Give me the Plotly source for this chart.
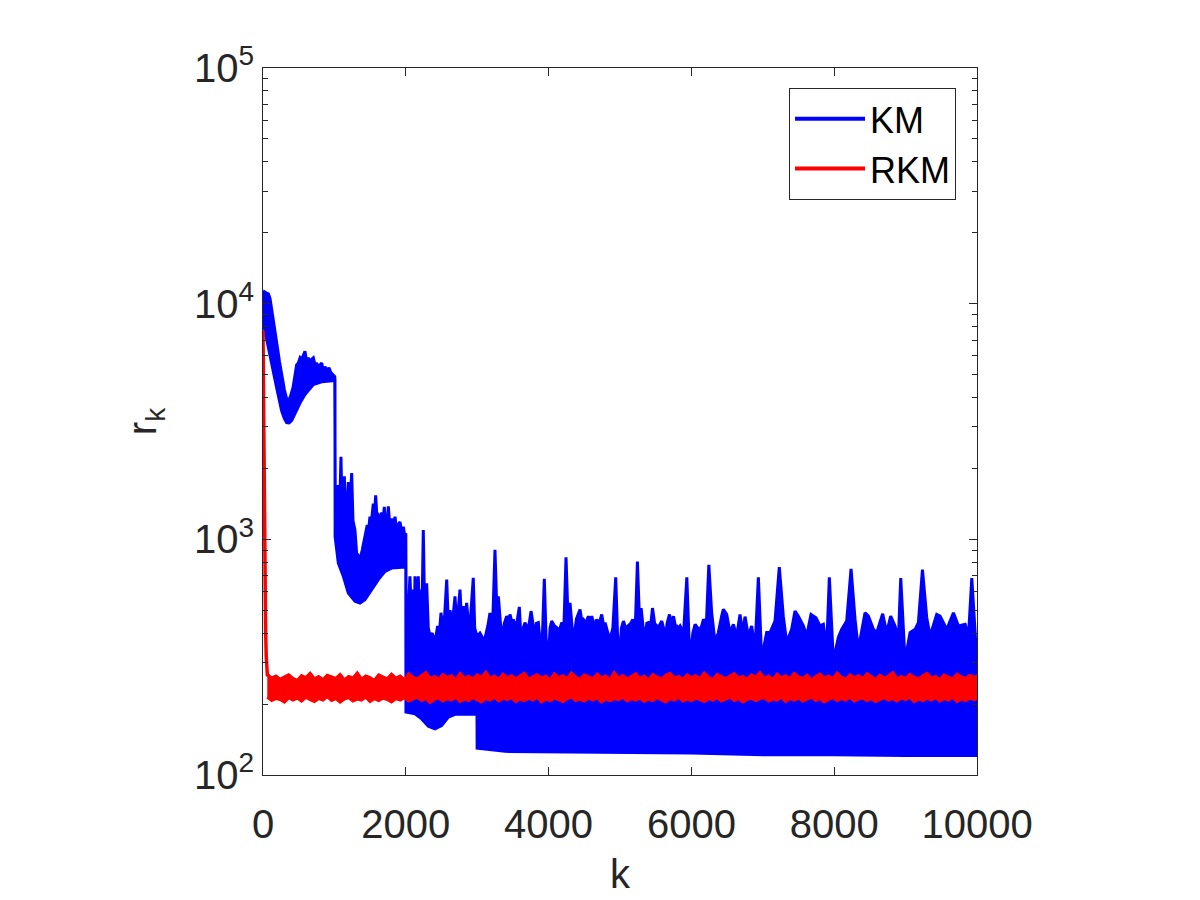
import plotly.graph_objects as go

# ---------------- data ----------------
# KM: dense oscillating residual -> upper and lower envelope of the band, (k, r_k)
km_upper = [
    (0, 10800), (20, 11240), (50, 11100), (75, 11000), (98, 10520), (120, 9600), (140, 8670), (170, 7500),
    (196, 6700), (230, 5700), (266, 4840), (300, 4300), (336, 3900), (360, 3860), (390, 4100), (420, 4400),
    (450, 5000), (471, 5500), (495, 5600), (520, 5900), (542, 5800), (570, 6100), (588, 6280), (610, 5700),
    (635, 5900), (660, 5600), (680, 5800), (705, 5890), (730, 5500), (752, 5600), (780, 5300), (800, 5500),
    (822, 5600), (845, 5200), (868, 5400), (895, 5200), (924, 5340), (950, 5100), (985, 5000), (1005, 4900),
    (1012, 1500), (1040, 1700), (1060, 1400), (1080, 1600), (1092, 2240), (1105, 1400), (1125, 1500), (1139, 1850),
    (1155, 1300), (1180, 1400), (1195, 1750), (1215, 1300), (1242, 1910), (1260, 1200), (1288, 1094), (1311, 874),
    (1340, 850), (1358, 820), (1390, 900), (1428, 1026), (1460, 1150), (1480, 1100), (1498, 1247), (1520, 1200),
    (1545, 1417), (1560, 1250), (1578, 1538), (1595, 1250), (1615, 1268), (1640, 1200), (1662, 1300), (1680, 1180),
    (1699, 1374), (1715, 1180), (1732, 1260), (1745, 1200), (1755, 1380), (1775, 1150), (1802, 1225), (1825, 1130),
    (1849, 1247), (1870, 1100), (1890, 1150), (1919, 1186), (1940, 1080), (1965, 1130), (1985, 1040), (2000, 1060),
    (2005, 500), (2030, 450), (2058, 697), (2080, 480), (2105, 612), (2120, 470), (2129, 697), (2150, 480),
    (2175, 697), (2190, 460), (2208, 612), (2225, 460), (2245, 1094), (2265, 470), (2292, 650), (2315, 420),
    (2339, 389), (2370, 400), (2409, 365), (2430, 400), (2446, 429), (2470, 400), (2493, 488), (2520, 410),
    (2545, 480), (2573, 675), (2595, 440), (2619, 500), (2650, 430), (2689, 573), (2710, 450), (2735, 500),
    (2759, 612), (2780, 450), (2806, 520), (2830, 440), (2852, 537), (2880, 430), (2910, 480), (2945, 686),
    (2965, 420), (2985, 400), (3006, 389), (3039, 400),
    (3080, 380), (3109, 380), (3150, 430), (3179, 487), (3215, 420), (3249, 902), (3275, 500), (3296, 573),
    (3320, 450), (3343, 377), (3380, 440), (3413, 472), (3440, 450), (3459, 480), (3490, 440), (3506, 457),
    (3529, 429), (3560, 450), (3590, 517), (3623, 331), (3645, 420), (3669, 443), (3716, 415), (3754, 496),
    (3786, 429), (3809, 402), (3830, 440), (3856, 443), (3893, 342), (3915, 400), (3940, 680), (3965, 380),
    (3996, 300), (4020, 420), (4043, 450), (4080, 430), (4113, 422), (4150, 410), (4183, 443), (4215, 430),
    (4244, 839), (4270, 480), (4300, 537), (4325, 420), (4347, 365), (4390, 460), (4440, 504), (4465, 450),
    (4487, 457), (4520, 440), (4557, 472), (4580, 440), (4604, 472), (4640, 430), (4674, 457), (4710, 440),
    (4744, 480), (4770, 430), (4791, 443), (4830, 400), (4861, 377), (4900, 420), (4940, 690), (4965, 400),
    (4992, 300), (5020, 420), (5048, 450), (5080, 420), (5118, 429), (5150, 440), (5179, 457), (5215, 430),
    (5244, 805), (5270, 480), (5296, 511), (5325, 420), (5352, 377), (5375, 440), (5399, 443), (5430, 430),
    (5455, 511), (5485, 440), (5515, 429), (5550, 430), (5585, 450), (5610, 420), (5632, 377), (5660, 440),
    (5693, 480), (5720, 440), (5749, 472), (5775, 430), (5795, 429), (5820, 420), (5842, 429), (5890, 400),
    (5936, 690), (5965, 390), (5992, 311), (6020, 400), (6052, 436), (6090, 420), (6122, 415), (6145, 430),
    (6169, 457), (6210, 440), (6244, 780),
    (6284, 487), (6331, 365), (6377, 402), (6424, 472), (6447, 504), (6494, 480), (6541, 402), (6588, 436),
    (6634, 389), (6681, 480), (6718, 402), (6751, 470), (6797, 389), (6844, 429), (6891, 342), (6938, 690),
    (6984, 311), (7054, 402), (7101, 402), (7171, 450), (7231, 762), (7287, 472), (7334, 365), (7404, 415),
    (7451, 496), (7498, 472), (7568, 429), (7614, 389), (7675, 480), (7745, 465), (7801, 429), (7848, 436),
    (7894, 342), (7932, 690), (7988, 305), (8058, 383), (8104, 415), (8175, 450), (8236, 750), (8292, 457),
    (8338, 342), (8432, 488), (8479, 472), (8549, 415), (8595, 402), (8679, 483), (8735, 402), (8791, 472),
    (8852, 429), (8899, 377), (8932, 685), (8992, 305), (9062, 402), (9133, 415), (9179, 443), (9236, 743),
    (9296, 465), (9343, 389), (9436, 480), (9483, 472), (9577, 415), (9670, 488), (9740, 429), (9834, 436),
    (9881, 389), (9927, 685), (9997, 300), (10000, 300),
]
km_lower = [
    (0, 8400), (75, 6700), (130, 5400), (191, 4400), (261, 3510), (300, 3250), (331, 3130), (365, 3120),
    (401, 3190), (471, 3510), (530, 3850), (588, 4120), (650, 4350), (705, 4540), (822, 4660), (1008, 4720),
    (1010, 1026), (1055, 792), (1125, 697), (1195, 592), (1288, 546), (1358, 537), (1428, 555), (1522, 612),
    (1615, 675), (1709, 731), (1802, 755), (1942, 762), (2000, 762),
    (2002, 185), (2129, 182), (2222, 173), (2316, 161), (2409, 157), (2502, 162), (2596, 176), (2689, 181),
    (2997, 181), (2999, 130), (3389, 126), (4000, 126), (5000, 125), (6000, 124), (7000, 122), (8000, 122),
    (9000, 121), (10000, 121),
]

# RKM: fast initial drop, then a narrow noisy band: (k, r_k) and (k, top, bottom)
rkm_head = [(0, 7700), (4, 5000), (8, 3000), (14, 1800), (20, 1100), (28, 650), (36, 420), (45, 320),
            (55, 275), (62, 262)]
rkm_band = [
    (60, 268, 214), (120, 258, 207), (180, 263, 211), (240, 255, 209), (300, 261, 204), (360, 266, 213),
    (420, 257, 208), (480, 252, 212), (540, 264, 206), (600, 259, 214), (660, 270, 209), (720, 256, 205),
    (780, 262, 211), (840, 254, 208), (900, 265, 215), (960, 260, 207), (1020, 257, 211), (1080, 267, 204),
    (1140, 253, 210), (1200, 262, 213), (1260, 258, 206), (1320, 271, 210), (1380, 255, 208), (1440, 263, 214),
    (1500, 259, 205), (1560, 252, 211), (1620, 266, 207), (1680, 261, 212), (1740, 256, 209), (1800, 268, 204),
    (1860, 258, 211), (1920, 263, 208), (1980, 254, 213), (2040, 269, 206), (2100, 260, 210), (2160, 256, 214),
    (2220, 265, 207), (2280, 272, 211), (2340, 257, 203), (2400, 262, 209), (2460, 255, 212), (2520, 267, 206),
    (2580, 259, 211), (2640, 264, 208), (2700, 253, 214), (2760, 270, 205), (2820, 258, 210), (2880, 262, 207),
    (2940, 256, 213), (3000, 266, 209), (3060, 260, 204), (3120, 273, 211), (3180, 257, 208), (3240, 263, 214),
    (3300, 254, 206), (3360, 268, 211), (3420, 259, 209), (3480, 264, 213), (3540, 256, 205), (3600, 262, 210),
    (3660, 270, 207), (3720, 255, 212), (3780, 261, 208), (3840, 266, 214), (3900, 258, 204), (3960, 263, 210),
    (4020, 253, 207), (4080, 269, 212), (4140, 259, 209), (4200, 264, 205), (4260, 257, 211), (4320, 271, 214),
    (4380, 260, 207), (4440, 255, 210), (4500, 266, 206), (4560, 261, 212), (4620, 256, 208), (4680, 268, 213),
    (4740, 259, 204), (4800, 263, 210), (4860, 254, 207), (4920, 272, 211), (4980, 258, 209), (5040, 264, 214),
    (5100, 256, 206), (5160, 262, 211), (5220, 269, 208), (5280, 257, 212), (5340, 263, 205), (5400, 253, 210),
    (5460, 267, 207), (5520, 260, 213), (5580, 256, 209), (5640, 265, 204), (5700, 270, 211), (5760, 258, 208),
    (5820, 262, 214), (5880, 255, 206), (5940, 266, 210), (6000, 259, 207), (6060, 264, 212), (6120, 257, 209),
    (6180, 271, 205), (6240, 260, 211), (6300, 254, 208), (6360, 267, 213), (6420, 261, 206), (6480, 256, 210),
    (6540, 263, 214), (6600, 269, 207), (6660, 258, 211), (6720, 262, 204), (6780, 255, 209), (6840, 266, 212),
    (6900, 260, 207), (6960, 272, 211), (7020, 257, 213), (7080, 263, 206), (7140, 254, 210), (7200, 268, 208),
    (7260, 259, 214), (7320, 264, 205), (7380, 256, 211), (7440, 270, 208), (7500, 261, 212), (7560, 257, 206),
    (7620, 265, 210), (7680, 253, 214), (7740, 262, 207), (7800, 268, 211), (7860, 258, 204), (7920, 263, 209),
    (7980, 256, 213), (8040, 271, 207), (8100, 260, 211), (8160, 255, 208), (8220, 266, 214), (8280, 259, 206),
    (8340, 264, 210), (8400, 257, 212), (8460, 269, 207), (8520, 261, 211), (8580, 254, 205), (8640, 265, 209),
    (8700, 258, 213), (8760, 263, 208), (8820, 272, 211), (8880, 256, 206), (8940, 262, 212), (9000, 257, 209),
    (9060, 267, 214), (9120, 260, 205), (9180, 255, 210), (9240, 264, 207), (9300, 270, 212), (9360, 258, 208),
    (9420, 262, 213), (9480, 254, 206), (9540, 266, 211), (9600, 260, 208), (9660, 256, 214), (9720, 268, 205),
    (9780, 261, 210), (9840, 257, 207), (9900, 265, 212), (9960, 259, 209), (10000, 263, 211),
]

x_ticks = [0, 2000, 4000, 6000, 8000, 10000]
x_tick_text = ["0", "2000", "4000", "6000", "8000", "10000"]
y_ticks = [100, 1000, 10000, 100000]
y_tick_text = ["10<sup>2</sup>", "10<sup>3</sup>", "10<sup>4</sup>", "10<sup>5</sup>"]
y_minor = [200, 300, 400, 500, 600, 700, 800, 900,
           2000, 3000, 4000, 5000, 6000, 7000, 8000, 9000,
           20000, 30000, 40000, 50000, 60000, 70000, 80000, 90000]

BLUE = "#0000ff"
RED = "#ff0000"
AX = "#262626"
FONT = "Liberation Sans, Arial, Helvetica, sans-serif"

# ---------------- figure ----------------
fig = go.Figure()

ku = [p[0] for p in km_upper]
ru = [p[1] for p in km_upper]
kl = [p[0] for p in km_lower][::-1]
rl = [p[1] for p in km_lower][::-1]
fig.add_trace(go.Scatter(x=ku + kl, y=ru + rl, mode="lines", fill="toself", fillcolor=BLUE,
                         line=dict(color=BLUE, width=3), showlegend=False, hoverinfo="skip"))

fig.add_trace(go.Scatter(x=[p[0] for p in rkm_head], y=[p[1] for p in rkm_head], mode="lines",
                         line=dict(color=RED, width=3.5), showlegend=False, hoverinfo="skip"))
bk = [p[0] for p in rkm_band]
bt = [p[1] for p in rkm_band]
bb = [p[2] for p in rkm_band]
fig.add_trace(go.Scatter(x=bk + bk[::-1], y=bt + bb[::-1], mode="lines", fill="toself", fillcolor=RED,
                         line=dict(color=RED, width=3), showlegend=False, hoverinfo="skip"))

# legend entries
fig.add_trace(go.Scatter(x=[None], y=[None], mode="lines", line=dict(color=BLUE, width=4), name="KM"))
fig.add_trace(go.Scatter(x=[None], y=[None], mode="lines", line=dict(color=RED, width=4), name="RKM"))

fig.update_layout(
    width=1200, height=900,
    margin=dict(l=263, r=223, t=68, b=120),
    paper_bgcolor="white", plot_bgcolor="white",
    font=dict(family=FONT, color=AX, size=40),
    xaxis=dict(
        range=[0, 10000], tickmode="array", tickvals=x_ticks, ticktext=x_tick_text,
        ticks="inside", ticklen=8, tickwidth=1, tickcolor=AX,
        showline=True, linecolor=AX, linewidth=1, mirror="ticks",
        showgrid=False, zeroline=False, ticklabelstandoff=14,
        tickfont=dict(size=40, family=FONT, color=AX),
        title=dict(text="k", font=dict(size=40, family=FONT, color=AX), standoff=14),
    ),
    yaxis=dict(
        type="log", range=[2, 5], tickmode="array", tickvals=y_ticks, ticktext=y_tick_text,
        ticks="inside", ticklen=8, tickwidth=1, tickcolor=AX,
        minor=dict(tickmode="array", tickvals=y_minor, ticks="inside", ticklen=5, tickcolor=AX, showgrid=False),
        showline=True, linecolor=AX, linewidth=1, mirror="ticks",
        showgrid=False, zeroline=False,
        tickfont=dict(size=40, family=FONT, color=AX),
        title=dict(text="r<sub>k</sub>", font=dict(size=40, family=FONT, color=AX), standoff=24),
    ),
    legend=dict(
        x=0.9706, y=0.9719, xanchor="right", yanchor="top",
        bgcolor="white", bordercolor=AX, borderwidth=1,
        font=dict(size=36, family=FONT, color="black"),
        itemwidth=70,
    ),
)

fig.write_html("out.html")
